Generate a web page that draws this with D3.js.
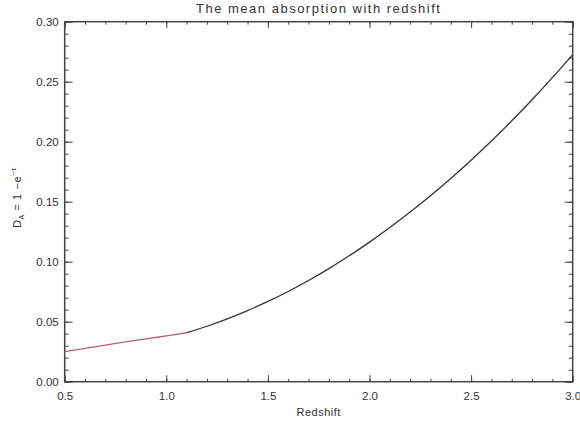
<!DOCTYPE html>
<html>
<head>
<meta charset="utf-8">
<script src="https://cdn.jsdelivr.net/npm/d3@7"></script>
<style>
  html, body { margin: 0; padding: 0; background: #fff; }
  svg { display: block; }
  text { font-family: "Liberation Sans", "DejaVu Sans", sans-serif; fill: #333; }
</style>
</head>
<body>
<svg id="chart" width="580" height="424"></svg>
<script>
// Low-redshift segment (drawn in red)
const zLow = [0.5, 0.6, 0.7, 0.8, 0.9, 1.0, 1.1];
const dLow = [0.025, 0.0278, 0.0305, 0.0331, 0.0356, 0.0382, 0.0408];

// Higher-redshift segment (drawn in black)
const zHigh = [1.1, 1.2, 1.3, 1.4, 1.5, 1.6, 1.7, 1.8, 1.9, 2.0, 2.1, 2.2, 2.3, 2.4, 2.5, 2.6, 2.7, 2.8, 2.9, 3.0];
const dHigh = [0.0408, 0.0462, 0.0524, 0.0593, 0.0669, 0.0752, 0.0843, 0.0942, 0.1049, 0.1163, 0.1285, 0.1414, 0.1550, 0.1694, 0.1846, 0.2006, 0.2174, 0.2350, 0.2534, 0.2726];

const xTicks = [0.5, 1.0, 1.5, 2.0, 2.5, 3.0];
const yTicks = [0.00, 0.05, 0.10, 0.15, 0.20, 0.25, 0.30];
const xMinor = d3.range(5, 31).map(v => v / 10);
const yMinor = d3.range(0, 31).map(v => v / 100);

const svg = d3.select("#chart");
const plotL = 64.7, plotR = 572.7, plotT = 21.7, plotB = 381.7;

const x = d3.scaleLinear().domain([0.5, 3.0]).range([plotL, plotR]);
const y = d3.scaleLinear().domain([0, 0.30]).range([plotB, plotT]);

const axisColor = "#444";

// frame ticks on all four sides, pointing inward
function styleAxis(g) {
  g.select(".domain").remove();
  g.selectAll("line").attr("stroke", axisColor).attr("stroke-width", 1);
}

svg.append("g").attr("transform", `translate(0,${plotB})`)
  .call(d3.axisBottom(x).tickValues(xMinor).tickSize(-3).tickFormat(""))
  .call(styleAxis);
svg.append("g").attr("transform", `translate(0,${plotB})`)
  .call(d3.axisBottom(x).tickValues(xTicks).tickSize(-6.5).tickPadding(10).tickFormat(d3.format(".1f")))
  .call(styleAxis)
  .call(g => g.selectAll("text").attr("font-size", 11.5).attr("fill", "#333"));

svg.append("g").attr("transform", `translate(0,${plotT})`)
  .call(d3.axisTop(x).tickValues(xMinor).tickSize(-3).tickFormat(""))
  .call(styleAxis);
svg.append("g").attr("transform", `translate(0,${plotT})`)
  .call(d3.axisTop(x).tickValues(xTicks).tickSize(-6.5).tickFormat(""))
  .call(styleAxis);

svg.append("g").attr("transform", `translate(${plotL},0)`)
  .call(d3.axisLeft(y).tickValues(yMinor).tickSize(-4).tickFormat(""))
  .call(styleAxis);
svg.append("g").attr("transform", `translate(${plotL},0)`)
  .call(d3.axisLeft(y).tickValues(yTicks).tickSize(-8).tickPadding(6).tickFormat(d3.format(".2f")))
  .call(styleAxis)
  .call(g => g.selectAll("text").attr("font-size", 11.5).attr("fill", "#333"));

svg.append("g").attr("transform", `translate(${plotR},0)`)
  .call(d3.axisRight(y).tickValues(yMinor).tickSize(-4).tickFormat(""))
  .call(styleAxis);
svg.append("g").attr("transform", `translate(${plotR},0)`)
  .call(d3.axisRight(y).tickValues(yTicks).tickSize(-8).tickFormat(""))
  .call(styleAxis);

// plot frame
svg.append("rect")
  .attr("x", plotL).attr("y", plotT)
  .attr("width", plotR - plotL).attr("height", plotB - plotT)
  .attr("fill", "none").attr("stroke", axisColor).attr("stroke-width", 1.5);

// curves
const line = d3.line().x(d => x(d[0])).y(d => y(d[1])).curve(d3.curveMonotoneX);

svg.append("path")
  .datum(zLow.map((z, i) => [z, dLow[i]]))
  .attr("d", line).attr("fill", "none")
  .attr("stroke", "#c0606e").attr("stroke-width", 1.3);

svg.append("path")
  .datum(zHigh.map((z, i) => [z, dHigh[i]]))
  .attr("d", line).attr("fill", "none")
  .attr("stroke", "#333").attr("stroke-width", 1.3);

// title
svg.append("text")
  .attr("x", (plotL + plotR) / 2).attr("y", 13)
  .attr("text-anchor", "middle").attr("font-size", 13)
  .attr("letter-spacing", 1.5)
  .text("The mean absorption with redshift");

// x label
svg.append("text")
  .attr("x", (plotL + plotR) / 2).attr("y", 416)
  .attr("text-anchor", "middle").attr("font-size", 11)
  .attr("letter-spacing", 0.5)
  .text("Redshift");

// y label: D_A = 1 − e^(−τ)
const yl = svg.append("text")
  .attr("transform", `translate(21,${(plotT + plotB) / 2 - 4}) rotate(-90)`)
  .attr("text-anchor", "middle").attr("font-size", 11)
  .attr("letter-spacing", 0.6);
yl.append("tspan").text("D");
yl.append("tspan").attr("font-size", 7).attr("dy", 3).text("A");
yl.append("tspan").attr("dy", -3).text(" = 1 \u2212e");
yl.append("tspan").attr("font-size", 7.5).attr("dy", -5).text("\u2212\u03c4");
</script>
</body>
</html>
